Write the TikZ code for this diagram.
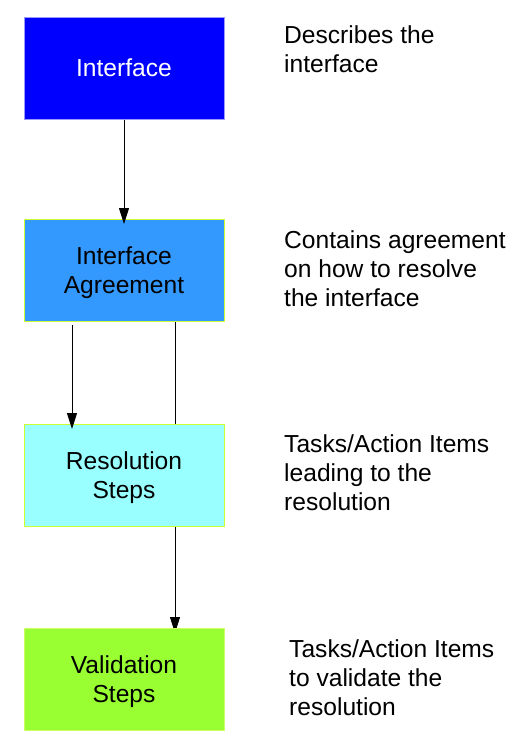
\documentclass[tikz,border=0pt]{standalone}
\usepackage{fontspec}
\setmainfont{Liberation Sans}
\usetikzlibrary{arrows.meta}
\definecolor{c1}{HTML}{0000FF}
\definecolor{b1}{HTML}{9999FF}
\definecolor{c2}{HTML}{3399FF}
\definecolor{c3}{HTML}{99FFFF}
\definecolor{c4}{HTML}{99FF33}
\definecolor{bg}{HTML}{CCFF33}
\definecolor{bg4}{HTML}{CCFF66}
\tikzset{
  box/.style={draw=bg, line width=1pt, minimum width=200pt, minimum height=102pt, inner sep=0pt,
    align=center, font=\fontsize{24.6}{29}\selectfont},
  desc/.style={anchor=base west, align=left, inner sep=0pt, font=\fontsize{24.6}{29}\selectfont},
  conn/.style={line width=1pt, -{Triangle[length=16pt,width=10pt]}},
}
\begin{document}
\begin{tikzpicture}[x=1pt,y=-1pt]
\useasboundingbox (0,0) rectangle (529,748);
\node[box, draw=b1, fill=c1, text=white] (n1) at (124,68) {Interface};
\node[box, fill=c2, text depth=-3pt] (n2) at (124,270.5) {Interface\\Agreement};
\coordinate (a2) at (72,322);
\coordinate (b2) at (175,322);
\coordinate (a3) at (72,424);
\coordinate (b4) at (175,628);
\draw[conn, line width=0.8pt] (b2) -- ([yshift=-5pt]b4);
\node[box, fill=c3, text depth=-3pt] (n3) at (124,475) {Resolution\\Steps};
\node[box, draw=bg4, fill=c4, text depth=-1pt] (n4) at (124,679.5) {Validation\\Steps};
\draw[conn] (n1.south) -- ([yshift=-5pt]n2.north);
\draw[conn] ([yshift=-3pt]a2) -- ([yshift=-5pt]a3);
\node[desc] (d1) at (284,72) {Describes the\\interface};
\node[desc] (d2) at (284,306) {Contains agreement\\on how to resolve\\the interface};
\node[desc] (d3) at (284,510) {Tasks/Action Items\\leading to the\\resolution};
\node[desc] (d4) at (289,715) {Tasks/Action Items\\to validate the\\resolution};
\end{tikzpicture}
\end{document}
